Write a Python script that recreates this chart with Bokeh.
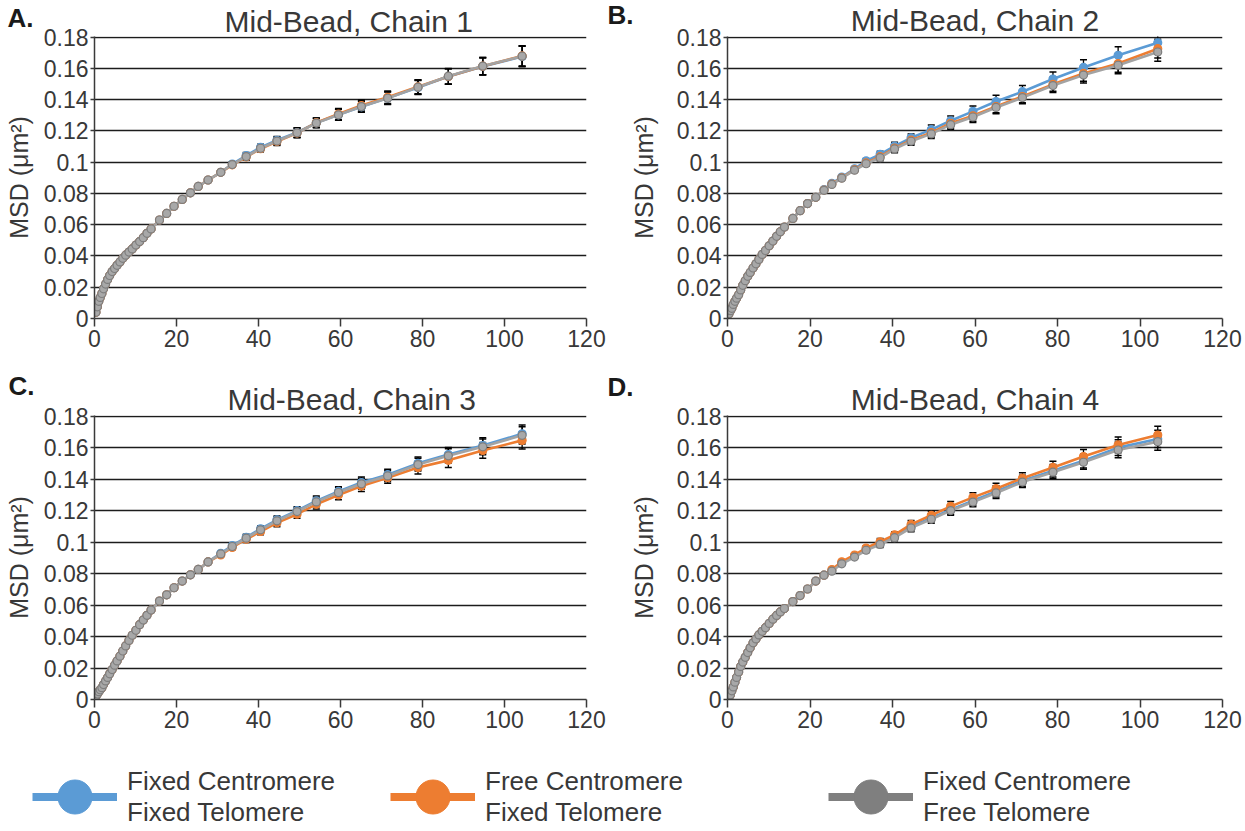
import numpy as np
from bokeh.plotting import figure
from bokeh.models import (Range1d, FixedTicker, Whisker, TeeHead, Title,
                          ColumnDataSource, Legend, LegendItem)
from bokeh.layouts import column, row
from bokeh.embed import file_html
from bokeh.resources import INLINE

# ---------------- data ----------------
LAG = [0.35, 0.7, 1.05, 1.4, 1.8, 2.2, 2.7, 3.2, 3.7, 4.3, 4.9, 5.5, 6.2, 6.9, 7.6,
       8.4, 9.2, 10.1, 11.0, 11.9, 12.8, 13.8, 15.85, 17.6, 19.4, 21.4, 23.4, 25.3,
       27.7, 30.8, 33.6, 37.0, 40.5, 44.5, 49.4, 54.1, 59.5, 65.1, 71.5, 78.9, 86.3,
       94.7, 104.3]

A_GRAY = [0.004, 0.0075, 0.011, 0.0135, 0.016, 0.019, 0.022, 0.025, 0.0275, 0.030,
          0.032, 0.034, 0.0362, 0.0385, 0.0405, 0.0425, 0.0445, 0.047, 0.0492, 0.0517,
          0.0545, 0.0573, 0.063, 0.0672, 0.0718, 0.0762, 0.0804, 0.0845, 0.0886, 0.0935,
          0.0985, 0.1036, 0.1089, 0.1135, 0.1188, 0.125, 0.1303, 0.1356, 0.1409, 0.148,
          0.155, 0.1615, 0.1678]
A_BLUE = [0.004, 0.0075, 0.011, 0.0135, 0.016, 0.019, 0.022, 0.025, 0.0275, 0.030,
          0.032, 0.034, 0.0362, 0.0385, 0.0405, 0.0425, 0.0445, 0.047, 0.0492, 0.0517,
          0.0545, 0.0573, 0.063, 0.0672, 0.0718, 0.0762, 0.0804, 0.0845, 0.0886, 0.0935,
          0.0988, 0.1042, 0.1095, 0.114, 0.119, 0.1252, 0.1303, 0.1354, 0.141, 0.1478,
          0.1548, 0.1612, 0.1676]
A_ORANGE = [0.004, 0.0075, 0.011, 0.0135, 0.016, 0.019, 0.022, 0.025, 0.0275, 0.030,
            0.032, 0.034, 0.0362, 0.0385, 0.0405, 0.0425, 0.0445, 0.047, 0.0492, 0.0517,
            0.0545, 0.0573, 0.063, 0.0672, 0.0718, 0.0762, 0.0804, 0.0845, 0.0886, 0.0935,
            0.0983, 0.1033, 0.1086, 0.1132, 0.1186, 0.1253, 0.1308, 0.1362, 0.1415, 0.1482,
            0.1548, 0.1614, 0.168]
A_ERR = [0.0] * 30 + [0.0015, 0.002, 0.002, 0.0025, 0.003, 0.003, 0.0035, 0.0035,
                      0.004, 0.0045, 0.005, 0.0055, 0.0065]

B_GRAY = [0.003, 0.005, 0.0065, 0.009, 0.011, 0.013, 0.0152, 0.0183, 0.0212, 0.0242,
          0.027, 0.0295, 0.0323, 0.035, 0.0378, 0.041, 0.0435, 0.0465, 0.0495, 0.0526,
          0.0555, 0.0585, 0.064, 0.069, 0.0735, 0.0775, 0.082, 0.0858, 0.0898, 0.0949,
          0.099, 0.1029, 0.1085, 0.1134, 0.1181, 0.124, 0.1289, 0.135, 0.1413, 0.149,
          0.1557, 0.162, 0.1705]
B_BLUE = [0.003, 0.005, 0.0065, 0.009, 0.011, 0.013, 0.0152, 0.0183, 0.0212, 0.0242,
          0.027, 0.0295, 0.0323, 0.035, 0.0378, 0.041, 0.0435, 0.0465, 0.0495, 0.0526,
          0.0555, 0.0585, 0.064, 0.069, 0.0735, 0.0775, 0.0825, 0.0865, 0.0905, 0.0958,
          0.1008, 0.105, 0.1103, 0.1156, 0.1208, 0.1265, 0.1325, 0.1388, 0.1451, 0.1532,
          0.1606, 0.1684, 0.1764]
B_ORANGE = [0.003, 0.005, 0.0065, 0.009, 0.011, 0.013, 0.0152, 0.0183, 0.0212, 0.0242,
            0.027, 0.0295, 0.0323, 0.035, 0.0378, 0.041, 0.0435, 0.0465, 0.0495, 0.0526,
            0.0555, 0.0585, 0.064, 0.069, 0.0735, 0.0775, 0.0822, 0.086, 0.09, 0.0952,
            0.0995, 0.1035, 0.109, 0.1141, 0.1189, 0.1249, 0.1297, 0.1356, 0.142, 0.1498,
            0.1568, 0.1631, 0.1726]
B_ERR = [0.0] * 30 + [0.0015, 0.002, 0.0025, 0.0025, 0.003, 0.003, 0.0035, 0.004,
                      0.004, 0.0045, 0.005, 0.0055, 0.006]

C_GRAY = [0.0022, 0.0035, 0.005, 0.0062, 0.0075, 0.0095, 0.0118, 0.014, 0.0163, 0.019,
          0.0218, 0.0245, 0.0275, 0.0308, 0.034, 0.0375, 0.0408, 0.044, 0.0475, 0.0505,
          0.0535, 0.0568, 0.0625, 0.0665, 0.071, 0.0752, 0.0792, 0.0826, 0.0874, 0.0925,
          0.0972, 0.1025, 0.1078, 0.1135, 0.1194, 0.1255, 0.1315, 0.137, 0.142, 0.1492,
          0.1548, 0.1605, 0.1678]
C_BLUE = [0.0022, 0.0035, 0.005, 0.0062, 0.0075, 0.0095, 0.0118, 0.014, 0.0163, 0.019,
          0.0218, 0.0245, 0.0275, 0.0308, 0.034, 0.0375, 0.0408, 0.044, 0.0475, 0.0505,
          0.0535, 0.0568, 0.0625, 0.0665, 0.071, 0.0752, 0.0792, 0.0826, 0.0874, 0.0929,
          0.0977, 0.103, 0.1084, 0.1141, 0.12, 0.1262, 0.1322, 0.1378, 0.1428, 0.15,
          0.1556, 0.1613, 0.1688]
C_ORANGE = [0.0022, 0.0035, 0.005, 0.0062, 0.0075, 0.0095, 0.0118, 0.014, 0.0163, 0.019,
            0.0218, 0.0245, 0.0275, 0.0308, 0.034, 0.0375, 0.0408, 0.044, 0.0475, 0.0505,
            0.0535, 0.0568, 0.0625, 0.0665, 0.071, 0.0752, 0.0792, 0.0826, 0.0874, 0.0918,
            0.0966, 0.1018, 0.1067, 0.1122, 0.1177, 0.124, 0.1299, 0.1356, 0.1409, 0.1473,
            0.1519, 0.1582, 0.1646]
C_ERR = [0.0] * 30 + [0.0015, 0.002, 0.002, 0.0025, 0.0025, 0.003, 0.003, 0.0035,
                      0.0035, 0.004, 0.0045, 0.005, 0.0055]

D_GRAY = [0.0015, 0.003, 0.0055, 0.008, 0.011, 0.014, 0.0175, 0.021, 0.0238, 0.0268,
          0.0298, 0.0328, 0.036, 0.0385, 0.041, 0.0433, 0.0456, 0.0483, 0.051, 0.0534,
          0.0556, 0.0578, 0.0622, 0.066, 0.0702, 0.0752, 0.079, 0.0815, 0.0862, 0.0905,
          0.0948, 0.0985, 0.1028, 0.109, 0.1145, 0.12, 0.1254, 0.1312, 0.1381, 0.1444,
          0.1507, 0.1585, 0.1638]
D_BLUE = [0.0015, 0.003, 0.0055, 0.008, 0.011, 0.014, 0.0175, 0.021, 0.0238, 0.0268,
          0.0298, 0.0328, 0.036, 0.0385, 0.041, 0.0433, 0.0456, 0.0483, 0.051, 0.0534,
          0.0556, 0.0578, 0.0622, 0.066, 0.0702, 0.0752, 0.079, 0.082, 0.0866, 0.091,
          0.0953, 0.0992, 0.1036, 0.1099, 0.1154, 0.1206, 0.1263, 0.1322, 0.139, 0.1453,
          0.1516, 0.16, 0.1655]
D_ORANGE = [0.0015, 0.003, 0.0055, 0.008, 0.011, 0.014, 0.0175, 0.021, 0.0238, 0.0268,
            0.0298, 0.0328, 0.036, 0.0385, 0.041, 0.0433, 0.0456, 0.0483, 0.051, 0.0534,
            0.0556, 0.0578, 0.0622, 0.066, 0.0702, 0.0752, 0.079, 0.0825, 0.0875, 0.0918,
            0.0962, 0.1002, 0.1046, 0.1112, 0.117, 0.1227, 0.1284, 0.1339, 0.1406, 0.1474,
            0.1543, 0.1617, 0.168]
D_ERR = [0.0] * 30 + [0.0015, 0.002, 0.002, 0.0025, 0.0025, 0.003, 0.003, 0.0035,
                      0.0035, 0.004, 0.0045, 0.005, 0.0055]

LETTERS = ["A.", "B.", "C.", "D."]
TITLES = ["Mid-Bead, Chain 1", "Mid-Bead, Chain 2", "Mid-Bead, Chain 3", "Mid-Bead, Chain 4"]
SERIES_NAMES = ["Fixed Centromere\nFixed Telomere",
                "Free Centromere\nFixed Telomere",
                "Fixed Centromere\nFree Telomere"]
Y_LABEL = "MSD (μm²)"
X_TICKS = [0, 20, 40, 60, 80, 100, 120]
Y_TICKS = [0, 0.02, 0.04, 0.06, 0.08, 0.1, 0.12, 0.14, 0.16, 0.18]
Y_TICK_LABELS = ["0", "0.02", "0.04", "0.06", "0.08", "0.1", "0.12", "0.14", "0.16", "0.18"]

# ---------------- style ----------------
FONT = "Liberation Sans"
BLUE, ORANGE = "#5B9BD5", "#ED7D31"
GRAY_LINE, GRAY_FILL, GRAY_EDGE = "#A3A3A3", "#A8A8A8", "#7E7E7E"
LEG_GRAY = "#7F7F7F"
TEXT = "#383838"


def make_panel(letter, title, series, err, width, height, bl, br, bt, bb,
               title_align, title_offset, title_standoff,
               letter_offset, letter_standoff, ylab_standoff):
    p = figure(width=width, height=height, x_range=Range1d(0, 120),
               y_range=Range1d(0, 0.1804), toolbar_location=None,
               output_backend="svg", min_border_left=bl, min_border_right=br,
               min_border_top=bt, min_border_bottom=bb)
    p.outline_line_color = None
    p.xgrid.visible = False
    p.ygrid.ticker = FixedTicker(ticks=Y_TICKS)
    p.ygrid.grid_line_color = "#1c1c1c"
    p.ygrid.grid_line_width = 1.3

    p.xaxis.ticker = FixedTicker(ticks=X_TICKS)
    p.yaxis.ticker = FixedTicker(ticks=Y_TICKS)
    p.yaxis.major_label_overrides = {t: s for t, s in zip(Y_TICKS, Y_TICK_LABELS)}
    for ax in (p.xaxis[0], p.yaxis[0]):
        ax.axis_line_color = "#3a3a3a"
        ax.axis_line_width = 1.5
        ax.major_tick_line_color = "#3a3a3a"
        ax.major_tick_line_width = 1.5
        ax.minor_tick_line_color = None
        ax.major_tick_in = 0
        ax.major_label_text_font = FONT
        ax.major_label_text_font_size = "23px"
        ax.major_label_text_color = TEXT
    p.xaxis.major_tick_out = 8
    p.xaxis.major_label_standoff = 3
    p.yaxis.major_tick_out = 4
    p.yaxis.major_label_standoff = 2
    p.yaxis.axis_label = Y_LABEL
    p.yaxis.axis_label_text_font = FONT
    p.yaxis.axis_label_text_font_size = "25px"
    p.yaxis.axis_label_text_font_style = "normal"
    p.yaxis.axis_label_text_color = TEXT
    p.yaxis.axis_label_standoff = ylab_standoff

    lag = np.array(LAG)
    e = np.array(err)
    mask = e > 0
    styles = [
        dict(line_color=BLUE, fill_color=BLUE, edge=BLUE),
        dict(line_color=ORANGE, fill_color=ORANGE, edge=ORANGE),
        dict(line_color=GRAY_LINE, fill_color=GRAY_FILL, edge=GRAY_EDGE),
    ]
    for vals, st in zip(series, styles):
        v = np.array(vals)
        wsrc = ColumnDataSource(dict(x=lag[mask], upper=v[mask] + e[mask],
                                     lower=v[mask] - e[mask]))
        p.add_layout(Whisker(source=wsrc, base="x", upper="upper", lower="lower",
                             line_color="black", line_width=1.3,
                             upper_head=TeeHead(size=7, line_color="black", line_width=1.5),
                             lower_head=TeeHead(size=7, line_color="black", line_width=1.5)))
    for vals, st in zip(series, styles):
        src = ColumnDataSource(dict(x=LAG, y=vals))
        p.line("x", "y", source=src, line_color=st["line_color"], line_width=2.6)
        p.scatter("x", "y", source=src, marker="circle", size=8,
                  fill_color=st["fill_color"], line_color=st["edge"], line_width=1.2)

    # panel letter: outer slot of the "above" panel, pulled down beside the title
    p.title.text = letter
    p.title.align = "left"
    p.title.offset = letter_offset
    p.title.standoff = letter_standoff
    p.title.vertical_align = "bottom"
    p.title.text_font = FONT
    p.title.text_font_size = "26px"
    p.title.text_font_style = "bold"
    p.title.text_color = "#1a1a1a"
    # chain title: slot nearest the frame
    p.add_layout(Title(text=title, align=title_align, offset=title_offset,
                       standoff=title_standoff, text_font=FONT,
                       text_font_size="30px", text_font_style="normal",
                       text_color=TEXT), "above")
    return p


pA = make_panel(LETTERS[0], TITLES[0], [A_BLUE, A_ORANGE, A_GRAY], A_ERR,
                606, 372, 94, 20, 34, 54, "left", 130, -3, -87, -56, 8)
pB = make_panel(LETTERS[1], TITLES[1], [B_BLUE, B_ORANGE, B_GRAY], B_ERR,
                639, 372, 121, 23, 36, 53, "center", 0, -1, -120, -54, 16)
pC = make_panel(LETTERS[2], TITLES[2], [C_BLUE, C_ORANGE, C_GRAY], C_ERR,
                606, 372, 94, 20, 43, 45, "left", 133, -1, -86, -38, 8)
pD = make_panel(LETTERS[3], TITLES[3], [D_BLUE, D_ORANGE, D_GRAY], D_ERR,
                639, 372, 121, 23, 42, 45, "center", 0, -1, -120, -40, 16)

# ---------------- legend ----------------
leg = figure(width=1245, height=86, x_range=Range1d(-2, -1), y_range=Range1d(0, 1),
             x_axis_type=None, y_axis_type=None, toolbar_location=None,
             output_backend="svg", min_border=0)
leg.outline_line_color = None
leg.xgrid.visible = False
leg.ygrid.visible = False
LEG_COLORS = [BLUE, ORANGE, LEG_GRAY]
LEG_DATA = [A_BLUE, A_ORANGE, A_GRAY]
LEG_X = [32, 390, 828]
for name, col, vals, lx in zip(SERIES_NAMES, LEG_COLORS, LEG_DATA, LEG_X):
    src = ColumnDataSource(dict(x=LAG, y=vals))
    r_line = leg.line("x", "y", source=src, line_color=col, line_width=8)
    r_dot = leg.scatter("x", "y", source=src, marker="circle", fill_color=col,
                        line_color=col)
    lg = Legend(items=[LegendItem(label=name, renderers=[r_line, r_dot])],
                location=(lx, -9), orientation="horizontal",
                glyph_width=85, glyph_height=85, label_standoff=10,
                padding=0, margin=0, border_line_color=None,
                background_fill_alpha=0, label_text_font=FONT,
                label_text_font_size="26px", label_text_color=TEXT,
                label_text_line_height=1.35)
    leg.add_layout(lg, "center")

layout = column(row(pA, pB), row(pC, pD), leg)
open("out.html", "w").write(file_html(layout, INLINE))
